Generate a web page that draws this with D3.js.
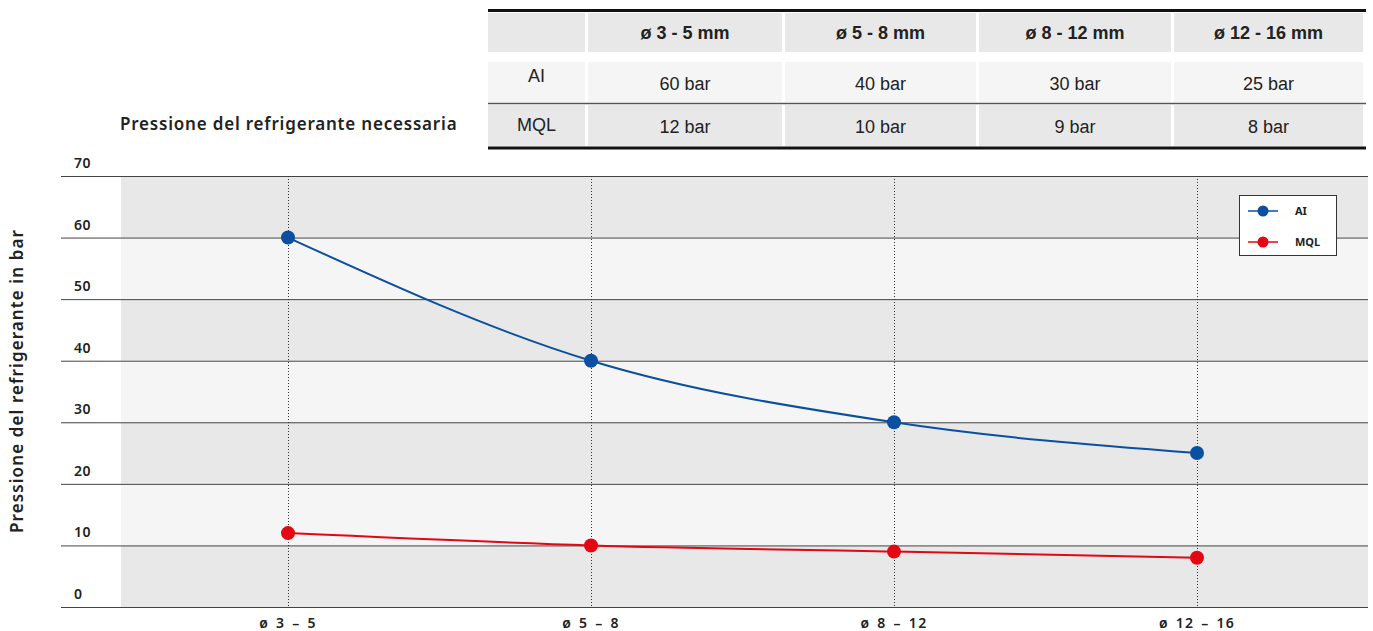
<!DOCTYPE html>
<html>
<head>
<meta charset="utf-8">
<script src="https://d3js.org/d3.v7.min.js"></script>
<style>
  body { margin: 0; background: #fff; }
  text { font-family: "Noto Sans", "DejaVu Sans", sans-serif; }
  .tbl text { font-family: "Liberation Sans Narrow", "Liberation Sans", sans-serif; }
</style>
</head>
<body>
<div id="chart"></div>
<script>
// data
var categories = ["ø 3 – 5", "ø 5 – 8", "ø 8 – 12", "ø 12 – 16"];
var tableHeads = ["ø 3 - 5 mm", "ø 5 - 8 mm", "ø 8 - 12 mm", "ø 12 - 16 mm"];
var seriesNames = ["AI", "MQL"];
var aiValues = [60, 40, 30, 25];
var mqlValues = [12, 10, 9, 8];
var yTicks = [0, 10, 20, 30, 40, 50, 60, 70];

var colors = { AI: "#0b4fa0", MQL: "#e30613" };

var width = 1373, height = 631;
var svg = d3.select("#chart").append("svg")
    .attr("width", width)
    .attr("height", height);

// plot area
var gridLeft = 61, plotLeft = 121, plotRight = 1368;
var x = d3.scalePoint().domain(categories).range([288, 1197]);
var y = d3.scaleLinear().domain([0, 70]).range([607, 176]);

// alternating bands
var bands = d3.range(0, 70, 10);
svg.append("g").selectAll("rect")
    .data(bands)
    .enter().append("rect")
    .attr("x", plotLeft)
    .attr("width", plotRight - plotLeft)
    .attr("y", function(d) { return y(d + 10); })
    .attr("height", function(d) { return y(d) - y(d + 10); })
    .attr("fill", function(d) { return (d / 10) % 2 === 0 ? "#e8e8e8" : "#f5f5f5"; });

// gridlines
svg.append("g").selectAll("line")
    .data(yTicks)
    .enter().append("line")
    .attr("x1", gridLeft).attr("x2", plotRight)
    .attr("y1", function(d) { return y(d) + 0.5; })
    .attr("y2", function(d) { return y(d) + 0.5; })
    .attr("stroke", "#444").attr("stroke-width", 1);

// y tick labels (above the line)
svg.append("g").selectAll("text")
    .data(yTicks)
    .enter().append("text")
    .attr("x", 74)
    .attr("y", function(d) { return y(d) - 8; })
    .attr("font-size", 14).attr("font-weight", 600).attr("fill", "#222")
    .attr("letter-spacing", 0.5)
    .text(function(d) { return d; });

// dotted verticals
svg.append("g").selectAll("line")
    .data(categories)
    .enter().append("line")
    .attr("x1", function(d) { return Math.round(x(d)) + 0.5; })
    .attr("x2", function(d) { return Math.round(x(d)) + 0.5; })
    .attr("y1", y(70)).attr("y2", y(0))
    .attr("stroke", "#333").attr("stroke-width", 1)
    .attr("stroke-dasharray", "1,2");

// x labels
svg.append("g").selectAll("text")
    .data(categories)
    .enter().append("text")
    .attr("x", function(d) { return x(d); })
    .attr("y", 628)
    .attr("text-anchor", "middle")
    .attr("font-size", 14).attr("font-weight", 600).attr("fill", "#222")
    .attr("letter-spacing", 1.3)
    .attr("word-spacing", 2)
    .text(function(d) { return d; });

// y axis title
svg.append("text")
    .attr("transform", "translate(23,381) rotate(-90)")
    .attr("text-anchor", "middle")
    .attr("font-size", 17).attr("font-weight", 600).attr("fill", "#222")
    .attr("letter-spacing", 1.1)
    .text("Pressione del refrigerante in bar");

// lines
var line = d3.line()
    .x(function(d, i) { return x(categories[i]); })
    .y(function(d) { return y(d); })
    .curve(d3.curveMonotoneX);

var series = [
  { name: "AI", values: aiValues },
  { name: "MQL", values: mqlValues }
];

series.forEach(function(s) {
  svg.append("path")
      .datum(s.values)
      .attr("d", line)
      .attr("fill", "none")
      .attr("stroke", colors[s.name])
      .attr("stroke-width", 2);
  svg.append("g").selectAll("circle")
      .data(s.values)
      .enter().append("circle")
      .attr("cx", function(d, i) { return x(categories[i]); })
      .attr("cy", function(d) { return y(d); })
      .attr("r", 7)
      .attr("fill", colors[s.name]);
});

// legend
var lg = svg.append("g");
lg.append("rect")
    .attr("x", 1239.5).attr("y", 195.5)
    .attr("width", 97).attr("height", 60)
    .attr("fill", "#fff").attr("stroke", "#333");
seriesNames.forEach(function(n, i) {
  var ly = 211 + i * 31;
  lg.append("line")
      .attr("x1", 1248).attr("x2", 1278)
      .attr("y1", ly).attr("y2", ly)
      .attr("stroke", colors[n]).attr("stroke-width", 1.5);
  lg.append("circle")
      .attr("cx", 1263).attr("cy", ly).attr("r", 5.5)
      .attr("fill", colors[n]);
  lg.append("text")
      .attr("x", 1295).attr("y", ly + 4)
      .attr("font-size", 11).attr("font-weight", 700).attr("fill", "#222")
      .text(n);
});

// title left of table
svg.append("text")
    .attr("x", 120).attr("y", 130)
    .attr("font-size", 17).attr("font-weight", 600).attr("fill", "#222")
    .attr("letter-spacing", 0.8)
    .text("Pressione del refrigerante necessaria");

// table
var tbl = svg.append("g").attr("class", "tbl");
var colX = [488, 588, 785, 979, 1174, 1366];
var rows = [
  { y: 13, h: 39, fill: "#e8e8e8" },
  { y: 62, h: 40, fill: "#f5f5f5" },
  { y: 105, h: 41, fill: "#e8e8e8" }
];
rows.forEach(function(r) {
  for (var c = 0; c < 5; c++) {
    tbl.append("rect")
        .attr("x", colX[c]).attr("y", r.y)
        .attr("width", colX[c + 1] - colX[c] - 3).attr("height", r.h)
        .attr("fill", r.fill);
  }
});
tbl.append("line").attr("x1", 488).attr("x2", 1366).attr("y1", 10.5).attr("y2", 10.5)
    .attr("stroke", "#111").attr("stroke-width", 3);
tbl.append("line").attr("x1", 488).attr("x2", 1366).attr("y1", 103.5).attr("y2", 103.5)
    .attr("stroke", "#555").attr("stroke-width", 1.5);
tbl.append("line").attr("x1", 488).attr("x2", 1366).attr("y1", 148).attr("y2", 148)
    .attr("stroke", "#111").attr("stroke-width", 3);

function colMid(c) { return (colX[c] + colX[c + 1] - 3) / 2; }

tableHeads.forEach(function(h, i) {
  tbl.append("text")
      .attr("x", colMid(i + 1)).attr("y", 39)
      .attr("text-anchor", "middle")
      .attr("font-size", 18).attr("font-weight", 700).attr("fill", "#222")
      .text(h);
});

tbl.append("text").attr("x", colMid(0)).attr("y", 82)
    .attr("text-anchor", "middle").attr("font-size", 18).attr("fill", "#222").text("AI");
tbl.append("text").attr("x", colMid(0)).attr("y", 131)
    .attr("text-anchor", "middle").attr("font-size", 18).attr("fill", "#222").text("MQL");

aiValues.forEach(function(v, i) {
  tbl.append("text")
      .attr("x", colMid(i + 1)).attr("y", 90)
      .attr("text-anchor", "middle").attr("font-size", 18).attr("fill", "#222")
      .text(v + " bar");
});
mqlValues.forEach(function(v, i) {
  tbl.append("text")
      .attr("x", colMid(i + 1)).attr("y", 133)
      .attr("text-anchor", "middle").attr("font-size", 18).attr("fill", "#222")
      .text(v + " bar");
});
</script>
</body>
</html>
